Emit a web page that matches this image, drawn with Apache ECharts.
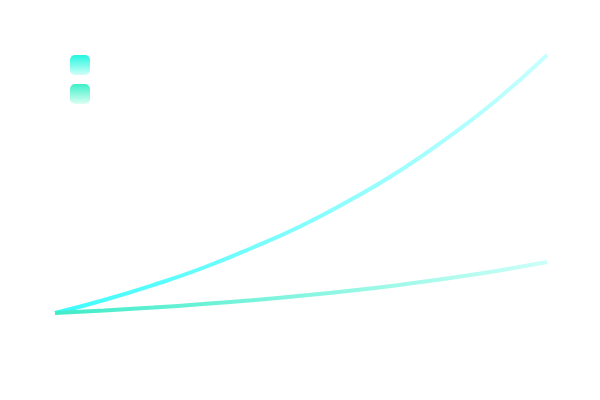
<!DOCTYPE html>
<html>
<head>
<meta charset="utf-8">
<script src="https://cdn.jsdelivr.net/npm/echarts@6/dist/echarts.min.js"></script>
<style>html,body{margin:0;padding:0;background:#fff;}#c{width:600px;height:400px;}</style>
</head>
<body>
<div id="c"></div>
<script>
var categories = ['0','1','2','3','4','5','6','7','8','9','10'];
var seriesNames = ['Series A', 'Series B'];
var upperValues = [0, 13, 28, 45, 65, 87, 113, 142, 176, 214, 258];
var lowerValues = [0, 2.6, 5.5, 8.9, 12.8, 17.2, 22.3, 28.1, 34.7, 42.3, 51];

function hGrad(a, b) {
  return new echarts.graphic.LinearGradient(0, 0, 1, 0, [{offset: 0, color: a}, {offset: 1, color: b}]);
}
function vGrad(a, b) {
  return new echarts.graphic.LinearGradient(0, 0, 0, 1, [{offset: 0, color: a}, {offset: 1, color: b}]);
}

var chart = echarts.init(document.getElementById('c'), null, {renderer: 'canvas'});
chart.setOption({
  animation: false,
  backgroundColor: '#ffffff',
  grid: {left: 55, right: 53, top: 55, bottom: 87},
  legend: {
    orient: 'vertical',
    left: 70,
    top: 55,
    padding: 0,
    itemWidth: 20,
    itemHeight: 20,
    itemGap: 9,
    icon: 'roundRect',
    textStyle: {color: '#ffffff'},
    data: [
      {name: seriesNames[0], itemStyle: {color: vGrad('#22f7e0', '#d0fff8')}},
      {name: seriesNames[1], itemStyle: {color: vGrad('#3cf0c8', '#dcfff4')}}
    ]
  },
  xAxis: {type: 'category', data: categories, boundaryGap: false, show: false},
  yAxis: {type: 'value', min: 0, max: 258, show: false, splitLine: {show: false}},
  series: [
    {
      name: seriesNames[0], type: 'line', smooth: true, symbol: 'none',
      data: upperValues,
      itemStyle: {color: '#33ffff'},
      lineStyle: {width: 4, color: hGrad('#3cfcfc', '#c8ffff')}
    },
    {
      name: seriesNames[1], type: 'line', smooth: true, symbol: 'none',
      data: lowerValues,
      itemStyle: {color: '#33eecc'},
      lineStyle: {width: 4, color: hGrad('#40ecc8', '#ccfff8')}
    }
  ]
});
</script>
</body>
</html>
